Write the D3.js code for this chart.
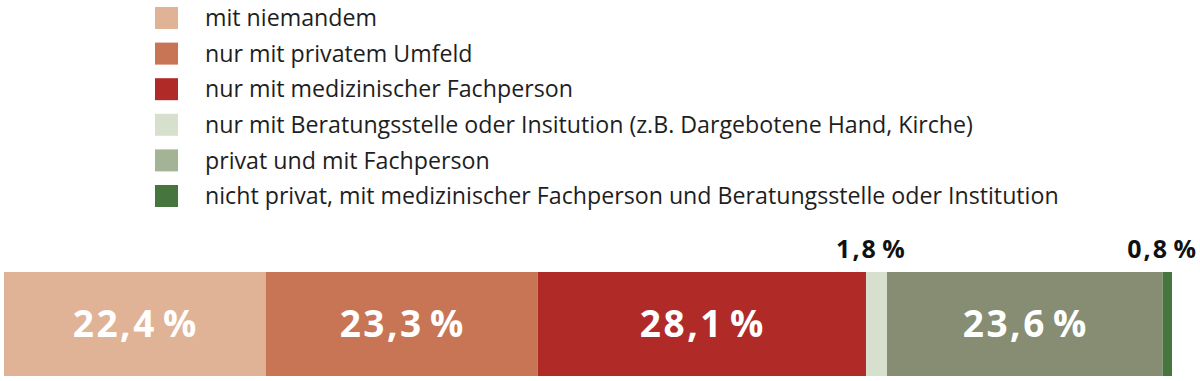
<!DOCTYPE html>
<html><head><meta charset="utf-8">
<script src="https://cdn.jsdelivr.net/npm/d3@7"></script>
<style>body{margin:0;background:#fff}svg{display:block}</style>
</head><body>
<svg id="c" width="1200" height="381"></svg>
<script>
const categories = [
  "mit niemandem",
  "nur mit privatem Umfeld",
  "nur mit medizinischer Fachperson",
  "nur mit Beratungsstelle oder Insitution (z.B. Dargebotene Hand, Kirche)",
  "privat und mit Fachperson",
  "nicht privat, mit medizinischer Fachperson und Beratungsstelle oder Institution"
];
const values = [22.4, 23.3, 28.1, 1.8, 23.6, 0.8];
const barColors = ["#e0b296", "#c87555", "#b02b28", "#d6e0cd", "#868d73", "#46763e"];
const legendColors = ["#e0b296", "#c87555", "#b02b28", "#d6e0cd", "#a3b496", "#46763e"];
const labelInside = [true, true, true, false, true, false];

const svg = d3.select("#c");
const font = "'Open Sans', sans-serif";

// legend
const ly = d3.scalePoint().domain(d3.range(categories.length)).range([18, 196]);
const lg = svg.append("g");
categories.forEach((c, i) => {
  lg.append("rect").attr("x", 155).attr("y", ly(i) - 11).attr("width", 23).attr("height", 22).attr("fill", legendColors[i]);
  lg.append("text").attr("x", 205).attr("y", ly(i)).attr("dy", "0.35em")
    .attr("font-family", font).attr("font-size", 23.2).attr("fill", "#1e1e1e").text(c);
});

// bar
const x = d3.scaleLinear().domain([0, d3.sum(values)]).range([4, 1172]);
const starts = [];
values.reduce((acc, v) => { starts.push(acc); return acc + v; }, 0);
const fmt = v => d3.format(".1f")(v).replace(".", ",") + "\u200A%";
const y0 = 272, h = 104;
const g = svg.append("g");
values.forEach((v, i) => {
  g.append("rect").attr("x", x(starts[i])).attr("y", y0).attr("width", x(starts[i] + v) - x(starts[i])).attr("height", h).attr("fill", barColors[i]);
  if (labelInside[i]) {
    g.append("text").attr("x", (x(starts[i]) + x(starts[i] + v)) / 2 + 1).attr("y", y0 + h / 2).attr("dy", "0.36em")
      .attr("text-anchor", "middle").attr("font-family", font).attr("font-weight", 700).attr("font-size", 37)
      .attr("letter-spacing", 2.5).attr("fill", "#fff").text(fmt(v));
  } else {
    const last = i === values.length - 1;
    g.append("text").attr("x", last ? 1198 : (x(starts[i]) + x(starts[i] + v)) / 2 - 5).attr("y", 249).attr("dy", "0.35em")
      .attr("text-anchor", last ? "end" : "middle").attr("font-family", font).attr("font-weight", 700).attr("font-size", 25)
      .attr("letter-spacing", 2).attr("fill", "#111").text(fmt(v));
  }
});
</script>
</body></html>
